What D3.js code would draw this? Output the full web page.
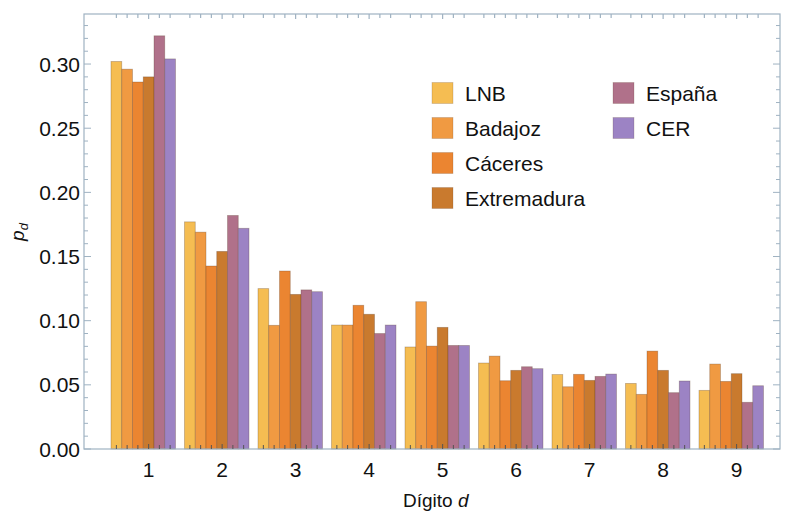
<!DOCTYPE html>
<html><head><meta charset="utf-8">
<script src="https://cdn.jsdelivr.net/npm/d3@7"></script>
<style>body{margin:0;background:#fff}svg{display:block}text{font-family:"Liberation Sans",Arial,sans-serif;fill:#111}</style>
</head><body><svg id="c" width="785" height="518"></svg>
<script>
const digits = ["1","2","3","4","5","6","7","8","9"];
const seriesNames = ["LNB","Badajoz","Cáceres","Extremadura","España","CER"];
const seriesColors = ["#f5bd52","#f09a42","#eb8531","#c97a2e","#b0718a","#9c83c4"];
const LNB = [0.302,0.177,0.125,0.0966,0.0795,0.067,0.058,0.0511,0.0457];
const Badajoz = [0.296,0.169,0.0964,0.0966,0.1148,0.0724,0.0485,0.0426,0.0662];
const Caceres = [0.286,0.1426,0.1387,0.112,0.0802,0.0532,0.0582,0.0763,0.0527];
const Extremadura = [0.290,0.154,0.1205,0.105,0.0948,0.0613,0.0535,0.0613,0.0587];
const Espana = [0.322,0.182,0.124,0.090,0.0807,0.0641,0.0566,0.0439,0.0364];
const CER = [0.304,0.172,0.1226,0.0966,0.0807,0.0626,0.0584,0.053,0.0493];
const yTicks = [0,0.05,0.10,0.15,0.20,0.25,0.30];
const allSeries = [LNB,Badajoz,Caceres,Extremadura,Espana,CER];

const svg = d3.select("#c");
const L=84, R=780, T=14, B=449;
const y = d3.scaleLinear().domain([0,0.339]).range([B,T]);
const x0 = d3.scaleBand().domain(digits).range([111,763.5]).paddingInner(0.1224).paddingOuter(0);
const x1 = d3.scaleBand().domain(seriesNames).range([0,x0.bandwidth()]);
const frameCol = "#9fb2c2";

// bars
digits.forEach((d,i)=>{
  const g = svg.append("g").attr("transform",`translate(${x0(d)},0)`);
  seriesNames.forEach((s,j)=>{
    const v = allSeries[j][i];
    g.append("rect").attr("x",x1(s)).attr("width",x1.bandwidth())
      .attr("y",y(v)).attr("height",B-y(v))
      .attr("fill",seriesColors[j]).attr("stroke","rgba(90,60,40,0.35)").attr("stroke-width",0.8);
  });
});

// frame
svg.append("rect").attr("x",L).attr("y",T).attr("width",R-L).attr("height",B-T)
  .attr("fill","none").attr("stroke",frameCol).attr("stroke-width",1.2);

// y ticks
const minor = d3.range(0,0.34,0.01);
minor.forEach(v=>{
  const major = Math.abs(Math.round(v*100)%5)===0;
  const len = major?7:4;
  svg.append("line").attr("x1",L).attr("x2",L+len).attr("y1",y(v)).attr("y2",y(v)).attr("stroke",frameCol).attr("stroke-width",1);
  svg.append("line").attr("x1",R).attr("x2",R-len).attr("y1",y(v)).attr("y2",y(v)).attr("stroke",frameCol).attr("stroke-width",1);
});
svg.selectAll(".yl").data(yTicks).enter().append("text")
  .attr("x",L-4).attr("y",d=>y(d)).attr("dy","0.36em").attr("text-anchor","end")
  .attr("font-size",21).text(d=>d.toFixed(2));

// x ticks at bar centres
digits.forEach((d,i)=>{
  seriesNames.forEach((s,j)=>{
    const cx = x0(d)+x1(s)+x1.bandwidth()/2;
    const len = j===3?5:4;
    svg.append("line").attr("x1",cx).attr("x2",cx).attr("y1",B).attr("y2",B-len).attr("stroke","#555").attr("stroke-width",1);
    svg.append("line").attr("x1",cx).attr("x2",cx).attr("y1",T).attr("y2",T+len).attr("stroke",frameCol).attr("stroke-width",1.2);
  });
  svg.append("text").attr("x",x0(d)+x1("Extremadura")+x1.bandwidth()/2).attr("y",477)
    .attr("text-anchor","middle").attr("font-size",21).text(d);
});

// axis titles
const xt = svg.append("text").attr("x",403).attr("y",507).attr("font-size",19);
xt.append("tspan").text("Dígito ");
xt.append("tspan").attr("font-style","italic").text("d");
const yt = svg.append("text").attr("transform","translate(24,232) rotate(-90)").attr("text-anchor","middle").attr("font-size",19);
yt.append("tspan").attr("font-style","italic").text("p");
yt.append("tspan").attr("font-style","italic").attr("font-size",13).attr("dy",4).text("d");

// legend
const legPos = [[432,93],[432,128],[432,163],[432,198],[613,93],[613,128]];
seriesNames.forEach((s,j)=>{
  const [lx,ly]=legPos[j];
  svg.append("rect").attr("x",lx).attr("y",ly-10.5).attr("width",21).attr("height",21)
    .attr("fill",seriesColors[j]).attr("stroke","rgba(90,60,40,0.25)").attr("stroke-width",0.8);
  svg.append("text").attr("x",lx+33).attr("y",ly).attr("dy","0.36em").attr("font-size",21).text(s);
});
</script></body></html>
